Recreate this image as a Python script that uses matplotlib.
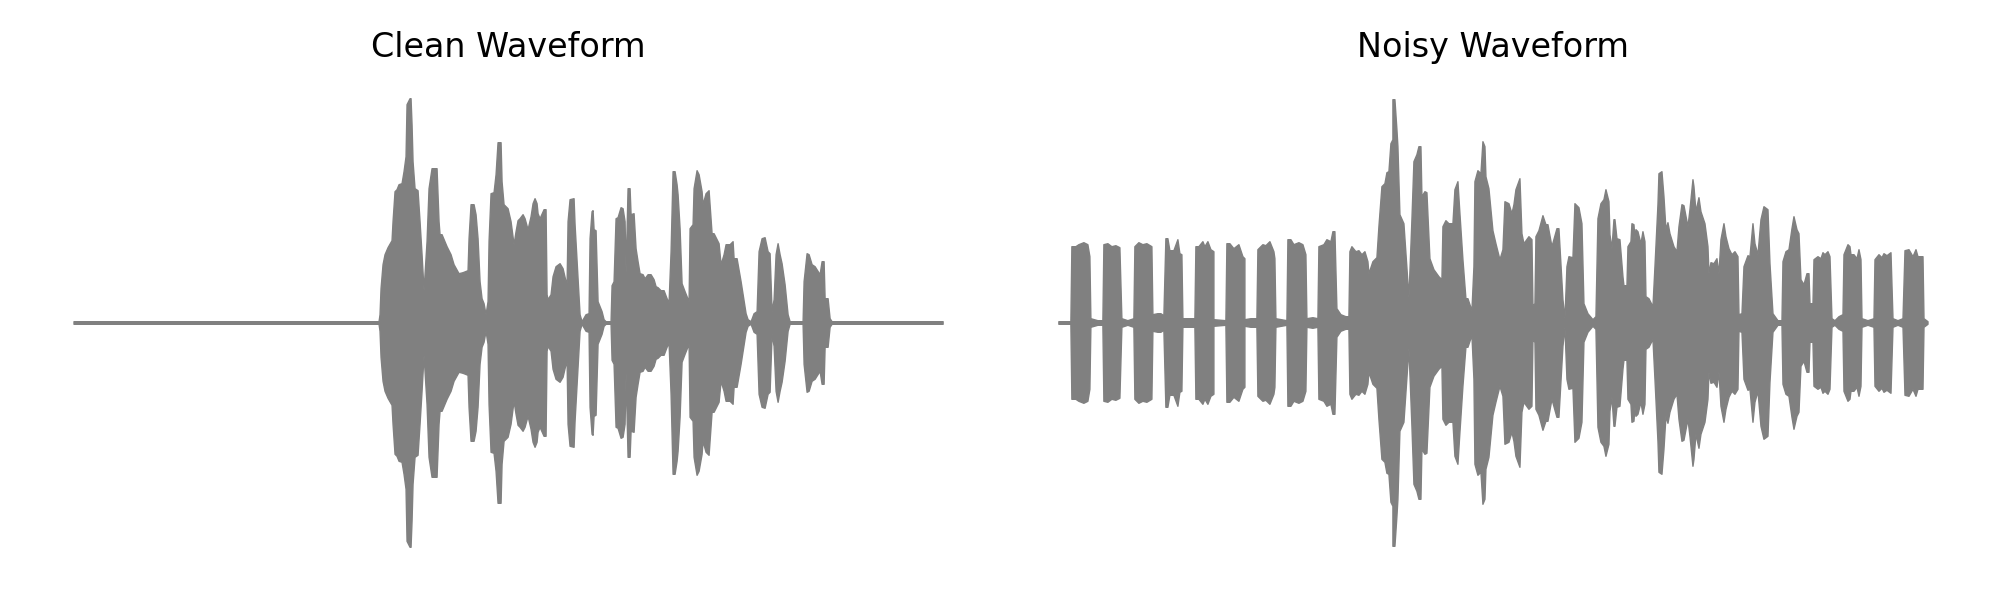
import matplotlib
matplotlib.use("Agg")
import matplotlib.pyplot as plt

# envelope of each recording (time in frames, amplitude in arbitrary units)
clean_time = [0, 305, 306, 307, 309, 311, 314, 318, 319, 321, 323, 325, 328, 330, 332, 333, 336, 337, 338, 339, 341,
              344, 346, 348, 350, 353, 355, 358, 363, 365, 366, 368, 373, 377, 380, 385, 389, 394, 395, 397, 400,
              402, 404, 406, 408, 410, 412, 414, 415, 417, 420, 422, 424, 427, 428, 430, 434, 437, 440, 442, 444,
              446, 449, 451, 454, 457, 459, 461, 463, 464, 466, 470, 472, 473, 474, 477, 479, 482, 486, 489, 492,
              493, 494, 496, 500, 501, 504, 506, 508, 512, 515, 516, 518, 519, 520, 522, 524, 528, 530, 532, 537,
              538, 540, 542, 544, 547, 549, 551, 552, 554, 556, 557, 560, 562, 564, 566, 569, 571, 574, 577, 580,
              582, 584, 587, 590, 593, 595, 597, 599, 601, 603, 604, 606, 608, 611, 615, 616, 619, 620, 623, 625,
              628, 629, 632, 635, 638, 640, 645, 647, 650, 652, 656, 659, 660, 663, 667, 672, 674, 677, 680, 683,
              685, 688, 691, 694, 696, 698, 700, 702, 704, 706, 708, 711, 714, 716, 729, 730, 733, 735, 738, 741,
              746, 748, 750, 751, 754, 756, 758, 869]
clean_env = [0, 0, 7, 33, 57, 67, 74, 81, 100, 130, 132, 137, 138, 150, 165, 217, 223, 223, 197, 160,
             133, 131, 100, 67, 31, 80, 133, 153, 153, 100, 87, 87, 75, 67, 57, 48, 49, 51, 83, 117,
             117, 107, 83, 40, 23, 18, 7, 20, 80, 128, 129, 147, 179, 179, 140, 117, 113, 100, 77, 90,
             101, 103, 107, 103, 92, 105, 118, 123, 118, 108, 103, 112, 112, 27, 22, 27, 45, 55, 58, 53,
             40, 35, 100, 122, 123, 97, 43, 7, 0, 7, 8, 83, 110, 111, 92, 91, 20, 10, 2, 0,
             0, 36, 40, 103, 104, 114, 113, 100, 49, 133, 133, 107, 108, 73, 60, 48, 47, 43, 47, 47,
             42, 35, 34, 31, 31, 23, 19, 70, 150, 150, 137, 127, 93, 38, 30, 20, 93, 97, 133, 151,
             147, 130, 117, 128, 131, 88, 88, 78, 57, 67, 77, 77, 80, 63, 63, 40, 8, 2, 0, 8,
             10, 70, 83, 84, 70, 68, 10, 22, 67, 78, 67, 58, 37, 7, 0, 0, 40, 68, 67, 57,
             55, 47, 60, 60, 23, 23, 3, 0, 0]

noisy_time = [0, 12, 13, 17, 20, 25, 29, 31, 32, 39, 44, 45, 49, 53, 57, 61, 63, 69, 75, 76,
              80, 84, 88, 93, 94, 99, 102, 105, 107, 109, 111, 115, 119, 121, 123, 124, 136, 137, 140, 144,
              146, 149, 152, 155, 155, 167, 168, 171, 175, 180, 184, 186, 186, 192, 198, 199, 204, 207, 211, 215,
              216, 217, 228, 229, 232, 235, 240, 244, 247, 248, 254, 259, 260, 265, 268, 272, 274, 276, 278, 282,
              287, 290, 291, 293, 297, 300, 303, 306, 309, 310, 314, 318, 320, 323, 326, 328, 330, 332, 334, 334,
              336, 338, 339, 341, 345, 350, 353, 355, 358, 360, 362, 363, 366, 368, 371, 375, 380, 383, 384, 387,
              390, 394, 396, 399, 401, 404, 407, 409, 413, 415, 416, 419, 422, 424, 426, 427, 430, 434, 437, 441,
              444, 446, 450, 453, 455, 457, 461, 463, 465, 470, 473, 474, 476, 477, 480, 484, 487, 489, 493, 498,
              500, 504, 506, 508, 510, 514, 516, 520, 523, 525, 529, 534, 537, 539, 542, 545, 547, 550, 551, 553,
              555, 556, 558, 561, 564, 565, 568, 569, 572, 573, 575, 576, 577, 579, 582, 584, 586, 587, 590, 594,
              596, 599, 600, 603, 605, 607, 609, 611, 615, 618, 620, 623, 625, 629, 631, 634, 635, 637, 640, 642,
              646, 649, 650, 652, 655, 658, 660, 662, 665, 667, 670, 673, 676, 679, 680, 683, 685, 689, 691, 694,
              696, 699, 702, 705, 709, 711, 714, 719, 723, 724, 727, 730, 733, 735, 738, 740, 742, 745, 748, 750,
              751, 754, 755, 759, 762, 764, 766, 769, 771, 773, 776, 780, 784, 785, 789, 791, 792, 795, 798, 800,
              802, 803, 809, 815, 816, 820, 823, 825, 828, 832, 834, 839, 844, 846, 850, 854, 857, 859, 864, 865, 869]
noisy_env = [0, 0, 75, 75, 77, 79, 77, 65, 3, 1, 1, 77, 78, 75, 76, 74, 3, 1, 3, 75,
             79, 77, 78, 75, 7, 8, 8, 6, 83, 83, 71, 71, 82, 68, 67, 3, 3, 75, 75, 80,
             75, 80, 72, 70, 2, 1, 78, 78, 73, 77, 65, 63, 2, 3, 3, 72, 77, 76, 80, 70,
             63, 3, 1, 82, 82, 77, 79, 77, 67, 3, 4, 3, 75, 77, 82, 80, 90, 90, 13, 7,
             5, 5, 70, 75, 70, 71, 67, 70, 60, 48, 60, 64, 95, 135, 138, 149, 150, 178, 182, 222,
             222, 192, 175, 107, 98, 24, 102, 160, 167, 175, 175, 125, 130, 129, 63, 52, 45, 42, 95, 101,
             98, 98, 132, 140, 108, 62, 23, 23, 11, 55, 140, 151, 148, 180, 175, 145, 133, 91, 78, 62,
             72, 120, 118, 108, 117, 132, 143, 88, 78, 85, 82, 16, 18, 85, 91, 106, 97, 97, 75, 93,
             93, 22, 3, 55, 65, 64, 118, 114, 98, 18, 8, 2, 5, 103, 118, 122, 132, 120, 87, 73,
             102, 102, 83, 82, 45, 36, 36, 75, 80, 98, 97, 83, 92, 90, 78, 90, 80, 25, 23, 15,
             55, 117, 148, 150, 125, 92, 99, 88, 75, 70, 95, 117, 116, 95, 112, 142, 135, 110, 124, 110,
             98, 75, 48, 59, 58, 63, 48, 82, 98, 85, 73, 67, 70, 65, 7, 8, 55, 66, 65, 98,
             78, 67, 102, 115, 112, 58, 8, 1, 1, 60, 70, 72, 93, 105, 92, 88, 42, 37, 48, 48,
             18, 18, 62, 65, 63, 69, 67, 70, 65, 3, 1, 5, 7, 67, 77, 75, 67, 67, 63, 72,
             62, 3, 1, 3, 62, 67, 64, 68, 66, 69, 3, 1, 3, 71, 72, 65, 72, 65, 65, 3, 0]

titles = ["Clean Waveform", "Noisy Waveform"]

# half thickness of the drawn trace, so silent parts still show as a line
trace_half = 1.3

fig, axes = plt.subplots(1, 2, figsize=(20, 6), dpi=100)
fig.subplots_adjust(left=0.015, right=0.986, top=0.875, bottom=0.05, wspace=0.029)

curves = [(clean_time, clean_env), (noisy_time, noisy_env)]
for ax, (t, env), title in zip(axes, curves, titles):
    upper = [v + trace_half for v in env]
    lower = [-v for v in upper]
    ax.fill_between(t, lower, upper, color="gray", linewidth=1, joinstyle="round", capstyle="round")
    ax.set_xlim(-43.5, 913.5)
    ax.set_ylim(-247.5, 247.5)
    ax.set_title(title, fontsize=24, pad=13)
    ax.axis("off")

plt.savefig("out.png")
